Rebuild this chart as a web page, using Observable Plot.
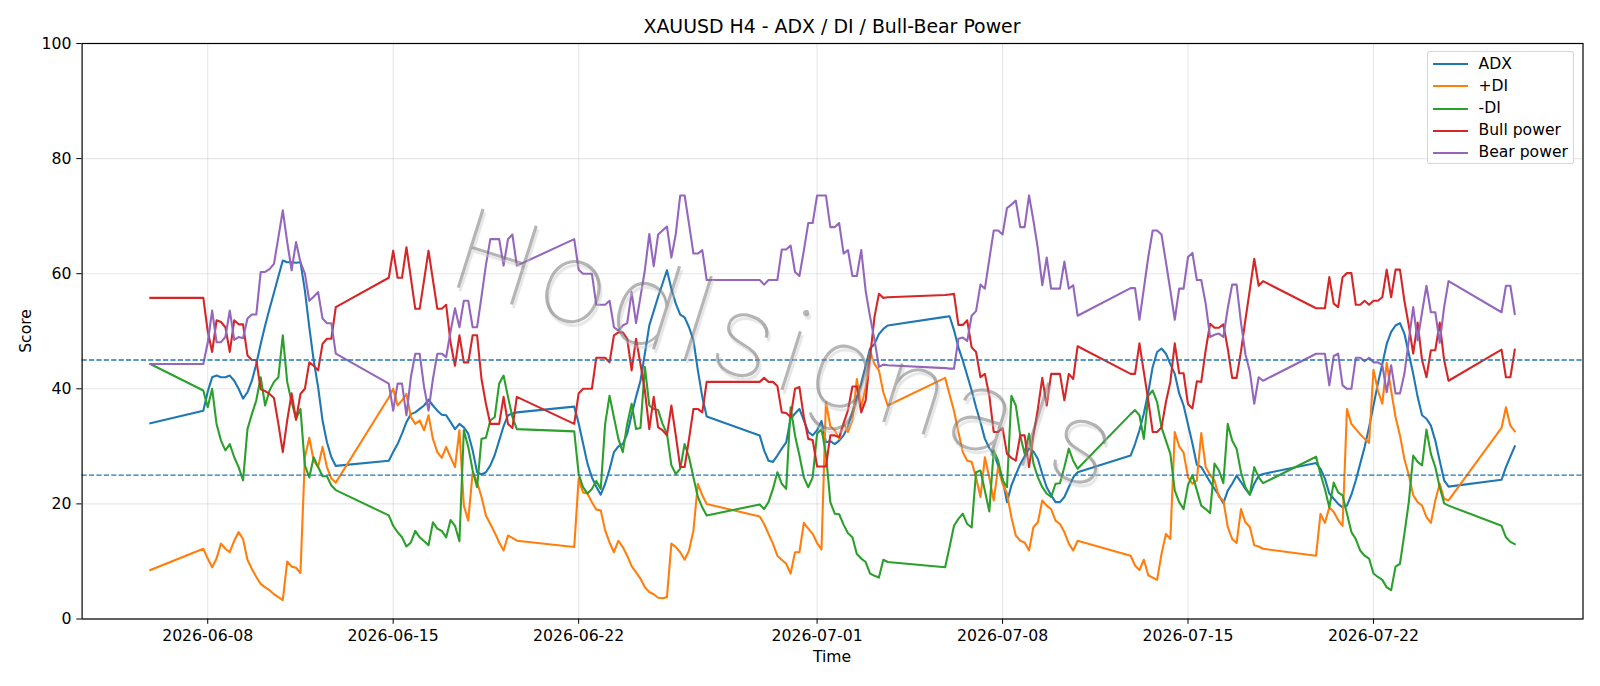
<!DOCTYPE html>
<html>
<head>
<meta charset="utf-8">
<script src="https://cdn.jsdelivr.net/npm/d3@7"></script>
<script src="https://cdn.jsdelivr.net/npm/@observablehq/plot@0.6"></script>
<style>
  html, body { margin: 0; padding: 0; background: #fff; }
  #wrap { position: relative; width: 1600px; height: 686px; overflow: hidden; font-family: "DejaVu Sans", sans-serif; color: #000; }
  #title { position: relative; height: 34px; }
  #title span { position: absolute; left: 832px; top: 26px; transform: translate(-50%, -50%); font-size: 18.9px; white-space: nowrap; }
  .lab { position: absolute; font-size: 15.6px; white-space: nowrap; transform: translate(-50%, -50%); }
  #ylab { transform: translate(-50%, -50%) rotate(-90deg); }
  #legend { position: absolute; left: 1426.5px; top: 50.5px; width: 147px; height: 113px; box-sizing: border-box;
            border: 1px solid rgba(204,204,204,0.8); border-radius: 3px; background: rgba(255,255,255,0.8); }
  .lg-line { position: absolute; left: 5px; width: 35px; height: 2.1px; margin-top: -1px; }
  .lg-text { position: absolute; left: 51px; font-size: 15.6px; line-height: 18px; margin-top: -9.5px; white-space: nowrap; }
  #wm { position: absolute; left: 789px; top: 350px; transform: translate(-50%, -50%) rotate(17.5deg);
        font-family: "Roboto", "Lato", "Open Sans", sans-serif; font-weight: 100; letter-spacing: 10px;
        font-size: 116px; color: rgba(120,120,120,0.55); white-space: nowrap; pointer-events: none;
        text-shadow: 3px 3px 1px rgba(200,200,200,0.45); }
</style>
</head>
<body>
<div id="wrap">
  <div id="title"><span>XAUUSD H4 - ADX / DI / Bull-Bear Power</span></div>
  <div id="chart"></div>
  <div class="lab" id="ylab" style="left:26px; top:331px;">Score</div>
  <div class="lab" style="left:832px; top:657px;">Time</div>
  <div id="wm">Hodlsignals</div>
  <div id="legend"></div>
</div>
<script>
// H4 bar sessions: [first bar (UTC), number of consecutive 4-hour bars]
const sessions = [
  ["2026-06-05T20:00Z", 1],
  ["2026-06-07T20:00Z", 31],
  ["2026-06-14T20:00Z", 30],
  ["2026-06-21T20:00Z", 31],
  ["2026-06-28T20:00Z", 30],
  ["2026-07-05T20:00Z", 31],
  ["2026-07-12T20:00Z", 31],
  ["2026-07-19T20:00Z", 31],
  ["2026-07-26T20:00Z", 4]
];

const adx = [
  34.0,
  36.2,39.5,42.0,42.3,42.0,42.0,42.3,41.4,40.0,38.3,39.4,41.4,44.3,47.8,51.0,53.9,56.7,59.5,62.3,62.0,62.0,61.9,62.0,57.1,50.7,44.9,40.3,34.5,30.7,28.1,26.6,
  27.5,29.0,30.4,32.2,34.2,35.6,35.9,36.5,37.1,38.1,37.1,36.2,35.5,35.4,34.2,33.0,33.9,33.3,32.2,29.3,25.5,25.1,25.5,26.7,28.5,31.0,33.5,35.4,35.7,35.9,
  36.9,34.0,30.5,27.0,24.6,23.0,21.6,23.5,26.0,29.0,30.0,30.4,32.2,35.5,38.6,41.4,46.1,51.0,53.5,56.0,58.3,60.6,57.4,54.8,52.9,52.4,50.7,48.4,43.2,38.6,35.2,
  31.9,29.3,27.5,27.3,28.4,29.6,30.7,34.8,35.7,36.5,34.5,32.5,31.9,32.8,34.4,30.7,30.9,30.4,31.0,31.9,33.5,36.0,38.5,41.0,44.0,47.0,47.8,49.5,50.4,51.0,
  52.5,52.6,50.2,47.2,44.9,42.3,39.7,36.8,34.2,31.3,29.7,28.7,26.7,24.4,20.3,23.2,25.1,26.9,28.3,29.6,29.1,27.8,25.2,22.9,21.5,20.3,20.3,21.2,22.9,24.6,25.5,
  28.4,30.4,32.8,35.7,39.4,43.8,46.4,47.0,46.1,44.3,42.6,39.2,37.1,33.8,30.5,26.8,26.4,25.1,23.8,22.6,21.5,20.1,22.3,23.5,24.9,23.8,22.6,21.6,23.5,24.9,25.2,
  27.1,26.1,24.4,21.8,20.9,20.0,19.4,19.7,21.6,24.1,27.0,29.9,33.3,37.1,40.9,44.3,47.8,49.9,51.0,51.4,49.6,46.1,42.6,38.6,35.4,34.8,33.6,31.0,27.5,24.1,23.0,
  24.2,26.4,28.2,30.0
];
const plusDI = [
  8.5,
  12.2,10.5,9.0,10.5,13.1,12.2,11.6,13.6,15.1,13.9,10.3,8.7,7.3,6.1,5.5,5.0,4.3,3.8,3.3,10.0,9.1,8.9,8.0,28.1,31.5,27.5,26.4,29.9,26.4,24.4,23.7,
  38.5,40.0,37.1,38.0,39.1,35.1,33.9,34.5,32.8,35.4,31.3,29.0,28.0,29.9,28.1,26.4,32.8,19.7,17.1,25.5,23.8,21.2,18.0,16.5,15.0,13.3,11.9,14.5,14.1,13.6,
  12.5,24.4,22.0,21.8,20.3,19.0,18.9,15.4,13.3,11.6,13.6,12.5,11.0,9.2,8.1,7.0,5.5,4.7,4.3,3.7,3.6,3.8,13.1,12.5,11.6,10.3,11.9,15.4,23.5,21.5,20.0,
  17.8,16.5,14.8,13.1,11.0,10.3,9.6,7.9,11.6,11.6,16.7,15.7,14.8,13.2,12.1,37.7,33.5,32.8,31.3,34.0,32.5,34.5,41.7,36.8,40.3,46.4,44.3,43.2,39.4,37.1,
  41.9,39.0,36.2,32.5,29.0,27.5,27.3,24.6,21.2,28.1,24.6,20.6,26.4,23.5,21.8,17.7,14.5,13.6,13.3,11.9,16.0,16.8,20.6,19.7,19.1,17.1,16.5,15.1,13.1,11.9,13.6,
  11.0,9.3,8.5,10.3,7.6,7.2,6.8,11.3,14.8,13.9,32.5,30.0,28.9,24.6,23.5,24.1,32.3,26.4,25.0,24.1,21.2,20.6,16.0,13.9,13.2,19.1,16.8,16.0,12.8,12.6,12.2,
  11.0,18.3,16.7,19.4,18.6,17.2,16.2,36.5,33.9,33.0,32.1,31.3,30.6,43.3,39.7,37.4,44.5,39.7,35.1,31.9,27.8,25.0,21.5,20.3,19.7,17.7,16.7,20.6,23.5,20.9,20.6,
  33.2,36.8,33.6,32.6
];
const minusDI = [
  44.3,
  39.7,36.8,40.0,33.9,31.0,29.3,30.4,28.1,26.4,24.1,33.0,35.6,38.0,42.0,37.1,39.7,41.2,42.0,49.3,41.2,37.7,34.8,36.5,26.7,24.6,28.1,26.4,24.8,24.8,23.2,22.4,
  18.0,16.2,15.1,14.2,12.6,13.3,15.3,14.2,13.5,12.8,16.8,15.7,15.3,14.2,17.2,16.2,13.5,32.8,29.9,25.8,22.9,31.3,31.5,34.5,35.1,40.9,42.3,38.6,35.1,33.0,
  32.6,25.2,22.9,21.8,22.6,24.0,22.6,33.9,38.8,35.0,31.3,29.0,33.9,37.4,33.0,33.2,43.8,37.1,36.5,36.3,33.9,32.2,26.7,25.2,26.1,30.4,28.1,24.6,21.2,19.4,18.0,
  19.9,19.1,20.3,22.6,25.5,23.5,22.6,36.8,31.9,28.4,24.6,22.9,24.6,32.2,33.0,28.7,20.3,18.3,18.2,16.4,14.9,14.2,11.3,10.5,9.9,7.9,7.5,7.2,10.3,9.9,
  9.0,12.5,16.2,17.4,18.3,16.5,15.9,25.5,25.8,22.3,18.7,29.3,27.5,24.1,22.9,38.8,37.1,31.9,28.7,32.2,27.0,24.6,22.9,21.8,21.2,23.5,23.6,26.4,29.6,27.5,26.1,
  35.6,36.3,35.4,31.3,38.8,39.7,37.7,33.3,31.0,28.7,22.3,20.3,19.1,23.3,25.0,22.4,19.7,19.1,18.4,27.0,25.8,23.6,33.9,31.0,29.6,25.5,22.9,21.6,26.4,24.6,23.6,
  28.2,25.2,22.6,19.4,23.7,22.0,21.5,18.3,15.1,13.9,11.9,11.0,10.5,7.9,7.3,6.8,5.5,5.0,9.1,9.6,14.8,20.3,28.4,27.3,26.7,32.9,28.7,26.4,22.9,20.1,19.7,
  16.2,14.2,13.4,13.0
];
const bullPower = [
  55.8,
  55.8,50.0,46.4,51.9,51.6,50.7,46.4,51.9,51.2,51.2,45.8,45.0,45.0,39.9,39.6,39.1,38.4,33.9,29.0,34.5,39.2,34.6,39.1,40.0,44.6,44.0,43.2,47.8,48.7,48.7,54.2,
  59.3,64.0,59.3,59.3,64.6,59.3,53.9,53.9,58.9,64.0,58.9,53.9,53.9,54.6,48.0,44.0,49.3,44.6,44.6,49.3,49.3,41.7,37.4,33.9,33.9,33.9,38.6,33.9,33.2,38.6,
  33.9,39.2,40.0,40.0,40.0,45.4,45.4,45.4,44.6,49.3,49.8,49.8,48.7,43.2,48.7,44.3,39.7,33.0,38.6,33.3,32.8,31.9,37.1,31.9,26.4,26.4,31.3,36.5,36.5,35.9,41.2,
  41.2,41.9,41.2,41.2,40.5,35.9,35.8,35.1,40.0,40.3,35.1,31.3,31.1,26.5,26.5,26.5,31.9,31.9,31.6,34.0,36.3,40.4,40.4,35.9,38.0,45.5,52.5,56.5,55.8,55.9,
  56.3,56.4,56.5,51.1,51.1,51.9,47.2,46.4,42.0,42.6,38.8,32.5,32.5,33.2,28.7,28.0,27.5,31.9,31.9,26.4,31.9,36.5,41.9,37.1,42.6,42.6,42.6,38.0,42.6,41.7,47.4,
  42.6,42.6,47.9,42.9,38.0,32.5,32.5,33.3,37.7,41.2,47.9,42.7,42.7,37.3,36.6,41.3,41.2,46.7,51.3,50.6,50.6,51.2,47.0,41.9,41.9,46.5,52.0,57.2,62.6,57.9,58.7,
  54.0,54.0,54.0,59.4,54.8,54.2,59.4,60.1,60.1,54.6,54.6,55.3,54.6,55.3,55.3,55.9,60.7,55.9,60.7,60.7,55.3,51.0,46.1,51.5,45.0,42.0,46.7,46.7,51.5,45.0,41.4,
  46.8,42.0,42.0,46.8
];
const bearPower = [
  44.3,
  44.3,48.0,53.6,48.1,48.1,49.0,53.6,48.5,49.0,48.8,52.2,52.9,52.9,60.3,60.3,60.8,61.7,66.3,71.0,65.5,60.6,65.5,62.0,60.0,55.3,56.0,56.8,52.2,51.4,51.4,46.1,
  40.9,36.2,40.9,40.9,35.4,42.0,46.1,46.1,40.3,36.2,41.7,46.1,46.1,45.5,50.0,54.0,50.7,55.3,55.3,50.7,50.7,56.0,61.5,66.0,66.0,66.0,61.4,66.0,66.8,61.4,
  66.0,60.7,60.0,60.0,60.0,54.6,54.6,54.6,55.3,50.7,50.1,51.0,51.4,56.8,51.4,56.0,60.6,66.9,61.3,66.8,67.5,68.2,62.8,66.9,73.6,73.6,68.6,63.5,63.5,64.1,58.9,
  58.9,58.1,58.9,58.9,58.9,64.2,64.2,64.9,60.3,59.6,64.0,68.8,68.8,73.6,73.6,73.6,68.1,68.1,68.8,63.5,64.1,59.6,59.6,64.1,57.0,52.5,48.5,43.8,44.2,44.1,
  43.6,43.5,43.5,48.7,48.9,48.3,52.7,53.5,58.1,57.4,62.5,67.5,67.5,66.8,71.4,72.0,72.7,68.1,68.1,73.6,69.2,64.3,58.0,62.8,57.4,57.4,57.4,62.1,57.4,58.0,52.7,
  57.5,57.5,52.0,57.4,62.9,67.5,67.5,66.8,62.0,57.1,52.0,57.4,57.4,62.9,63.6,58.9,58.9,54.8,49.0,49.4,49.6,49.0,54.0,58.1,58.1,51.5,46.0,43.0,37.4,42.0,41.4,
  46.1,46.1,46.1,40.6,45.7,46.1,40.6,40.0,40.0,45.4,45.4,44.8,45.4,44.6,44.6,44.1,39.4,44.1,39.2,39.2,42.6,48.4,54.2,48.4,53.3,57.9,53.3,53.3,48.0,54.2,58.7,
  53.3,57.9,57.9,53.0
];

const seriesNames = ["ADX", "+DI", "-DI", "Bull power", "Bear power"];
const seriesColors = ["#1f77b4", "#ff7f0e", "#2ca02c", "#d62728", "#9467bd"];
const seriesValues = [adx, plusDI, minusDI, bullPower, bearPower];
const thresholds = [45, 25];
const yTicks = [0, 20, 40, 60, 80, 100];
const xTickLabels = ["2026-06-08", "2026-06-15", "2026-06-22", "2026-07-01", "2026-07-08", "2026-07-15", "2026-07-22"];

// build bar times from the sessions
const H4 = 4 * 3600 * 1000;
const times = sessions.flatMap(([start, n]) => d3.range(n).map(i => new Date(Date.parse(start) + i * H4)));

const rows = [];
seriesNames.forEach((name, s) => {
  seriesValues[s].forEach((v, i) => rows.push({ time: times[i], value: v, series: name }));
});

const xTicks = xTickLabels.map(s => new Date(s + "T00:00:00Z"));
const tMin = d3.min(times), tMax = d3.max(times);
const pad = (tMax - tMin) * 0.05;
const xDomain = [new Date(+tMin - pad), new Date(+tMax + pad)];

const fmt = d3.utcFormat("%Y-%m-%d");

const chart = Plot.plot({
  width: 1600,
  height: 652,
  marginLeft: 81.6,
  marginRight: 17.5,
  marginTop: 9,
  marginBottom: 67.5,
  style: { fontFamily: "'DejaVu Sans', sans-serif", fontSize: "15.7px", color: "#000", background: "#fff", overflow: "visible" },
  x: { type: "utc", domain: xDomain, ticks: xTicks, tickFormat: d => fmt(d), tickSize: 5.3, tickPadding: 5.3, label: null },
  y: { domain: [0, 100], ticks: yTicks, tickSize: 5.3, tickPadding: 5.3, label: null },
  color: { domain: seriesNames, range: seriesColors },
  marks: [
    Plot.ruleX(xTicks, { stroke: "#b0b0b0", strokeOpacity: 0.3, strokeWidth: 1.1 }),
    Plot.ruleY(yTicks, { stroke: "#b0b0b0", strokeOpacity: 0.3, strokeWidth: 1.1 }),
    Plot.line(rows, { x: "time", y: "value", z: "series", stroke: "series", strokeWidth: 2.1, strokeLinejoin: "round", strokeLinecap: "square" }),
    Plot.ruleY(thresholds, { stroke: "#1f77b4", strokeWidth: 1.4, strokeDasharray: "5.2,2.2" }),
    Plot.frame({ stroke: "#000", strokeWidth: 1.2 })
  ]
});
document.getElementById("chart").appendChild(chart);

// legend
const lg = document.getElementById("legend");
seriesNames.forEach((name, i) => {
  const y = 12.8 + i * 22.1;
  const l = document.createElement("div");
  l.className = "lg-line";
  l.style.top = y + "px";
  l.style.background = seriesColors[i];
  lg.appendChild(l);
  const t = document.createElement("div");
  t.className = "lg-text";
  t.style.top = y + "px";
  t.textContent = name;
  lg.appendChild(t);
});
</script>
</body>
</html>
